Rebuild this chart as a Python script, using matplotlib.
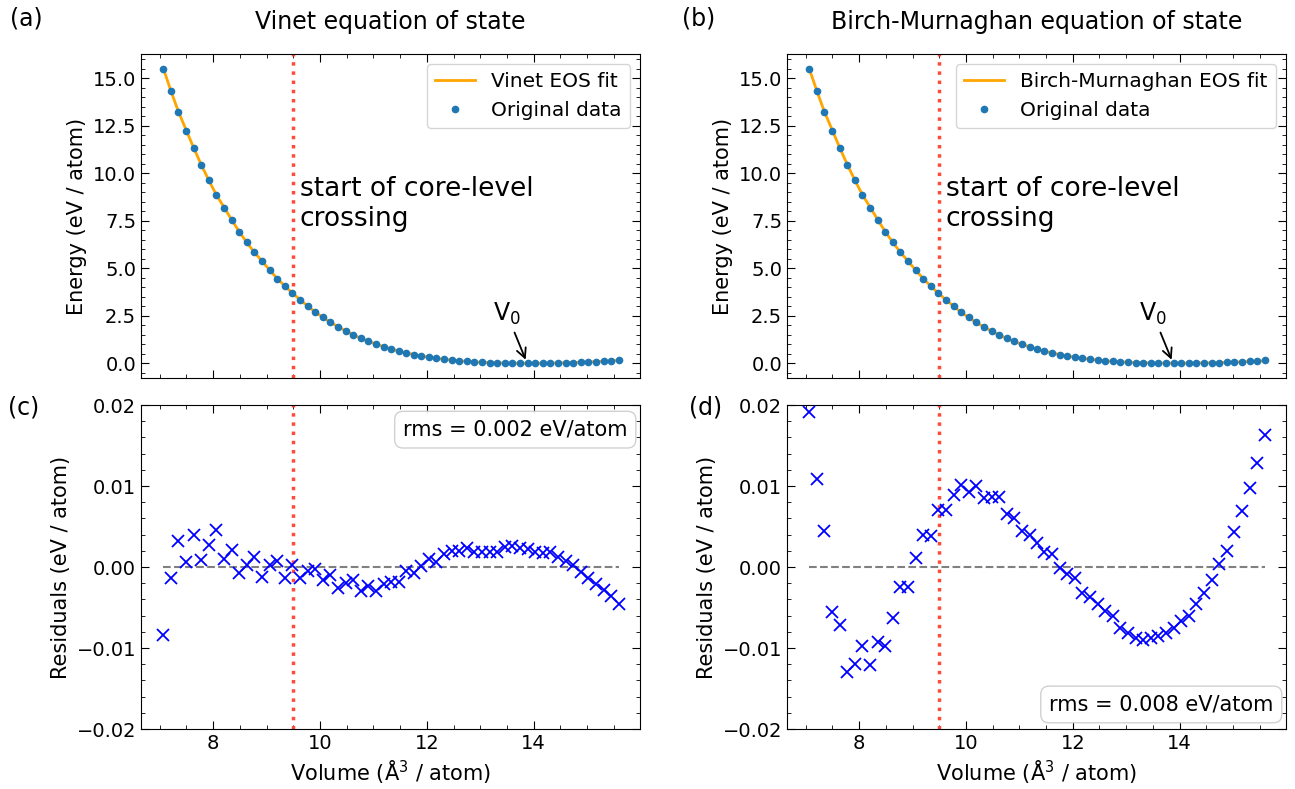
import numpy as np
import matplotlib
matplotlib.use("Agg")
import matplotlib.pyplot as plt
import matplotlib.ticker as mticker

# volume grid (Å^3 / atom)
volume = [7.07, 7.21, 7.35, 7.50, 7.64, 7.78, 7.92, 8.06, 8.21, 8.35,
          8.49, 8.63, 8.77, 8.92, 9.06, 9.20, 9.34, 9.48, 9.63, 9.77,
          9.91, 10.05, 10.19, 10.34, 10.48, 10.62, 10.76, 10.90, 11.05, 11.19,
          11.33, 11.47, 11.61, 11.76, 11.90, 12.04, 12.18, 12.32, 12.47, 12.61,
          12.75, 12.89, 13.03, 13.18, 13.32, 13.46, 13.60, 13.74, 13.89, 14.03,
          14.17, 14.31, 14.45, 14.60, 14.74, 14.88, 15.02, 15.16, 15.31, 15.45,
          15.59]

# DFT energies (eV / atom), relative to minimum
energy = [15.50, 14.34, 13.25, 12.25, 11.32, 10.44, 9.63, 8.87, 8.19, 7.54,
          6.92, 6.36, 5.85, 5.36, 4.90, 4.46, 4.07, 3.70, 3.34, 3.01,
          2.70, 2.42, 2.16, 1.92, 1.70, 1.50, 1.32, 1.15, 1.005, 0.871,
          0.750, 0.642, 0.546, 0.460, 0.385, 0.318, 0.260, 0.210, 0.167, 0.130,
          0.098, 0.073, 0.051, 0.034, 0.021, 0.012, 0.005, 0.001, 0.000, 0.001,
          0.004, 0.010, 0.017, 0.026, 0.038, 0.051, 0.066, 0.083, 0.103, 0.125,
          0.150]

resid_vinet = [-0.0084, -0.0013, 0.0032, 0.0006, 0.0040, 0.0009, 0.0027, 0.0046, 0.0010, 0.0021,
               -0.0007, 0.0003, 0.0013, -0.0012, 0.0002, 0.0008, -0.0014, 0.0002, -0.0013, -0.0005,
               -0.0002, -0.0016, -0.0010, -0.0026, -0.0020, -0.0016, -0.0030, -0.0023, -0.0030, -0.0021,
               -0.0018, -0.0018, -0.0005, -0.0007, 0.0001, 0.0010, 0.0006, 0.0016, 0.0020, 0.0020,
               0.0024, 0.0018, 0.0018, 0.0018, 0.0018, 0.0025, 0.0026, 0.0024, 0.0022, 0.0018,
               0.0017, 0.0018, 0.0013, 0.0008, 0.0002, -0.0006, -0.0014, -0.0021, -0.0028, -0.0036,
               -0.0046]

resid_bm = [0.0192, 0.0109, 0.0044, -0.0056, -0.0072, -0.0129, -0.0120, -0.0098, -0.0121, -0.0092,
            -0.0098, -0.0063, -0.0025, -0.0025, 0.0011, 0.0039, 0.0038, 0.0071, 0.0071, 0.0089,
            0.0101, 0.0093, 0.0100, 0.0085, 0.0087, 0.0086, 0.0065, 0.0061, 0.0044, 0.0040,
            0.0030, 0.0018, 0.0016, -0.0001, -0.0009, -0.0014, -0.0032, -0.0037, -0.0045, -0.0054,
            -0.0061, -0.0075, -0.0081, -0.0087, -0.0090, -0.0087, -0.0085, -0.0081, -0.0075, -0.0067,
            -0.0060, -0.0045, -0.0032, -0.0016, 0.0004, 0.0020, 0.0043, 0.0069, 0.0097, 0.0129,
            0.0163]

V_CROSS = 9.5
V0 = 13.87
_RED = "#ff4b3a"

plt.rcParams["font.family"] = "DejaVu Sans"

V = np.array(volume)
E = np.array(energy)


def style_axes(ax, ymajor, yminor):
    ax.xaxis.set_major_locator(mticker.MultipleLocator(2))
    ax.xaxis.set_minor_locator(mticker.MultipleLocator(0.5))
    ax.yaxis.set_major_locator(mticker.MultipleLocator(ymajor))
    ax.yaxis.set_minor_locator(mticker.MultipleLocator(yminor))
    ax.tick_params(which="both", direction="in", top=True, right=True,
                   labelsize=14)
    ax.tick_params(which="major", length=6)
    ax.tick_params(which="minor", length=3)


def energy_panel(ax, resid, title, label):
    fit = E - np.array(resid)
    ax.plot(V, fit, color="orange", lw=2, label=label, zorder=2)
    ax.plot(V, E, "o", color="#1f77b4", ms=4.5, label="Original data", zorder=3)
    ax.axvline(V_CROSS, color=_RED, linestyle=":", lw=2.5)
    ax.text(9.62, 8.4, "start of core-level\ncrossing", fontsize=19,
            ha="left", va="center")
    ax.annotate(r"V$_0$", xy=(V0, 0.05), xytext=(13.5, 1.9),
                fontsize=17, ha="center", va="bottom",
                arrowprops=dict(arrowstyle="->", color="black", lw=1.3))
    ax.set_xlim(6.65, 15.99)
    ax.set_ylabel("Energy (eV / atom)", fontsize=15)
    ax.set_title(title, fontsize=17, pad=18)
    style_axes(ax, 2.5, 0.5)
    ax.tick_params(labelbottom=False)
    ax.legend(loc="upper right", fontsize=14.5)


def resid_panel(ax, resid, rms_text, loc_top):
    ax.plot(V, np.zeros_like(V), "--", color="gray", lw=1.5, zorder=1)
    ax.plot(V, resid, "x", color="blue", ms=8, mew=1.3, zorder=3)
    ax.axvline(V_CROSS, color=_RED, linestyle=":", lw=2.5)
    ax.set_xlim(6.65, 15.99)
    ax.set_ylim(-0.02, 0.02)
    ax.set_xlabel("Volume (Å$^3$ / atom)", fontsize=15)
    ax.set_ylabel("Residuals (eV / atom)", fontsize=15)
    style_axes(ax, 0.01, 0.002)
    ax.yaxis.set_major_formatter(mticker.FuncFormatter(
        lambda y, _: f"{y:.2f}".replace("-", "\u2212")))
    box = dict(boxstyle="round,pad=0.4", facecolor="white",
               edgecolor="#cccccc", alpha=0.9)
    if loc_top:
        ax.text(0.975, 0.955, rms_text, transform=ax.transAxes,
                ha="right", va="top", fontsize=15, bbox=box)
    else:
        ax.text(0.975, 0.045, rms_text, transform=ax.transAxes,
                ha="right", va="bottom", fontsize=15, bbox=box)


fig = plt.figure(figsize=(12.95, 7.89), dpi=100)

ax_a = fig.add_axes([0.1089, 0.5209, 0.3853, 0.4106])
ax_b = fig.add_axes([0.6077, 0.5209, 0.3853, 0.4106])
ax_c = fig.add_axes([0.1089, 0.0760, 0.3853, 0.4106])
ax_d = fig.add_axes([0.6077, 0.0760, 0.3853, 0.4106])

energy_panel(ax_a, resid_vinet, "Vinet equation of state", "Vinet EOS fit")
energy_panel(ax_b, resid_bm, "Birch-Murnaghan equation of state",
             "Birch-Murnaghan EOS fit")
resid_panel(ax_c, resid_vinet, "rms = 0.002 eV/atom", True)
resid_panel(ax_d, resid_bm, "rms = 0.008 eV/atom", False)

for txt, x, y in [("(a)", 0.008, 0.977), ("(b)", 0.527, 0.977),
                  ("(c)", 0.006, 0.484), ("(d)", 0.532, 0.484)]:
    fig.text(x, y, txt, fontsize=17, ha="left", va="center")

fig.savefig("out.png", dpi=100)
plt.close(fig)
